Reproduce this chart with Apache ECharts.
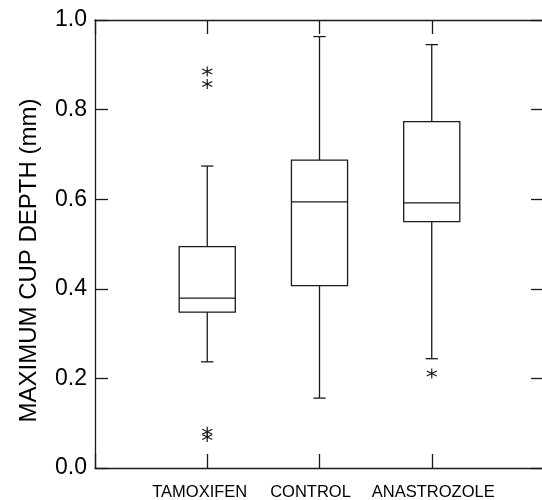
<!DOCTYPE html>
<html><head><meta charset="utf-8">
<script src="https://cdn.jsdelivr.net/npm/echarts@6/dist/echarts.min.js"></script>
<style>html,body{margin:0;padding:0;background:#fff}#c{width:542px;height:500px}</style>
</head><body><div id="c"></div>
<script>
const categories = ['TAMOXIFEN', 'CONTROL', 'ANASTROZOLE'];
const whiskerLow = [0.237, 0.156, 0.244];
const q1 = [0.348, 0.407, 0.550];
const median = [0.379, 0.594, 0.592];
const q3 = [0.494, 0.687, 0.773];
const whiskerHigh = [0.674, 0.963, 0.945];
const outlierGroup = ['TAMOXIFEN', 'TAMOXIFEN', 'TAMOXIFEN', 'TAMOXIFEN', 'ANASTROZOLE'];
const outlierValue = [0.885, 0.857, 0.081, 0.069, 0.211];
const yMin = 0, yMax = 1, yStep = 0.2;
const yTitle = 'MAXIMUM CUP DEPTH (mm)';

const axisCats = [''].concat(categories, ['']);
const boxData = categories.map((c, i) => [i + 1, whiskerLow[i], q1[i], median[i], q3[i], whiskerHigh[i]]);
const outData = outlierGroup.map((g, i) => [categories.indexOf(g) + 1, outlierValue[i]]);

const INK = '#1a1a1a';
const richKeys = { TAMOXIFEN: 't', CONTROL: 'c', ANASTROZOLE: 'a' };
const labelFont = { fontSize: 16.5, color: '#000', fontFamily: 'Liberation Sans, Arial, sans-serif' };

function renderItem(params, api) {
  const x = api.value(0);
  const lo = api.coord([x, api.value(1)]);
  const b1 = api.coord([x, api.value(2)]);
  const md = api.coord([x, api.value(3)]);
  const b3 = api.coord([x, api.value(4)]);
  const hi = api.coord([x, api.value(5)]);
  const band = api.size([1, 0])[0];
  const hw = band * 0.25, cw = band * 0.055;
  const cx = lo[0];
  const st = { stroke: INK, lineWidth: 1.3, fill: 'none' };
  return {
    type: 'group', children: [
      { type: 'rect', shape: { x: cx - hw, y: b3[1], width: 2 * hw, height: b1[1] - b3[1] }, style: st },
      { type: 'line', shape: { x1: cx - hw, y1: md[1], x2: cx + hw, y2: md[1] }, style: st },
      { type: 'line', shape: { x1: cx, y1: b3[1], x2: cx, y2: hi[1] }, style: st },
      { type: 'line', shape: { x1: cx, y1: b1[1], x2: cx, y2: lo[1] }, style: st },
      { type: 'line', shape: { x1: cx - cw, y1: hi[1], x2: cx + cw, y2: hi[1] }, style: st },
      { type: 'line', shape: { x1: cx - cw, y1: lo[1], x2: cx + cw, y2: lo[1] }, style: st }
    ]
  };
}

const xAxisBase = {
  type: 'category', data: axisCats, boundaryGap: false,
  axisLine: { show: true, onZero: false, lineStyle: { color: INK, width: 1.3 } },
  axisTick: { show: true, inside: true, length: 14, interval: 0, lineStyle: { color: INK, width: 1.3 } },
  splitLine: { show: false }
};
const yAxisBase = {
  type: 'value', min: yMin, max: yMax, interval: yStep,
  axisLine: { show: true, onZero: false, lineStyle: { color: INK, width: 1.3 } },
  axisTick: { show: true, inside: true, length: 13, lineStyle: { color: INK, width: 1.3 } },
  splitLine: { show: false }
};

const chart = echarts.init(document.getElementById('c'), null, { renderer: 'canvas' });
chart.setOption({
  backgroundColor: '#fff',
  animation: false,
  grid: { left: 95, top: 20, width: 449, height: 448, outerBoundsMode: 'none' },
  xAxis: [
    Object.assign({}, xAxisBase, {
      position: 'bottom',
      axisLabel: {
        show: true, interval: 0, margin: 16,
        formatter: v => v ? '{' + richKeys[v] + '|' + v + '}' : '',
        rich: {
          t: Object.assign({ padding: [0, 15, 0, 0] }, labelFont),
          c: Object.assign({ padding: [0, 18, 0, 0] }, labelFont),
          a: Object.assign({ padding: [0, 0, 0, 3] }, labelFont)
        }
      }
    }),
    Object.assign({}, xAxisBase, { position: 'top', axisLabel: { show: false } })
  ],
  yAxis: [
    Object.assign({}, yAxisBase, {
      position: 'left',
      name: yTitle, nameLocation: 'middle', nameGap: 54, nameRotate: 90,
      nameTextStyle: { fontSize: 24, color: '#000', fontFamily: 'Liberation Sans, Arial, sans-serif', padding: [0, 33, 0, 0] },
      axisLabel: { show: true, margin: 8, fontSize: 23, color: '#000', fontFamily: 'Liberation Sans, Arial, sans-serif', formatter: v => v.toFixed(1) }
    }),
    Object.assign({}, yAxisBase, { position: 'right', axisLabel: { show: false } })
  ],
  series: [
    { type: 'custom', xAxisIndex: 0, yAxisIndex: 0, data: boxData, renderItem: renderItem, clip: false, silent: true },
    {
      type: 'scatter', xAxisIndex: 0, yAxisIndex: 0, data: outData,
      symbol: 'path://M5,0L5,10M0.67,2.5L9.33,7.5M0.67,7.5L9.33,2.5',
      symbolSize: [10, 10],
      itemStyle: { color: 'rgba(0,0,0,0)', borderColor: INK, borderWidth: 1.2, opacity: 1 },
      silent: true
    }
  ]
});
</script></body></html>
